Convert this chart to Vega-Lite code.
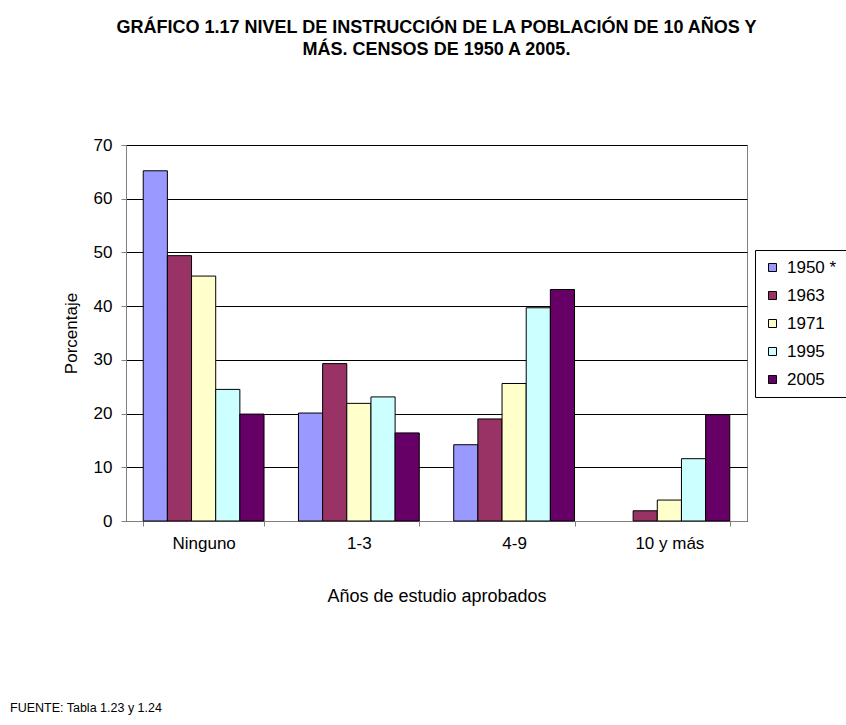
{
  "$schema": "https://vega.github.io/schema/vega-lite/v6.json",
  "autosize": {"type": "none"},
  "padding": {"left": 126, "top": 145, "right": 720, "bottom": 580},
  "background": "white",
  "config": {
    "font": "Liberation Sans",
    "view": {"stroke": "#808080", "strokeWidth": 1},
    "axis": {
      "labelFont": "Liberation Sans",
      "titleFont": "Liberation Sans",
      "labelFontSize": 17,
      "titleFontSize": 17,
      "labelColor": "black",
      "titleColor": "black",
      "titleFontWeight": "normal",
      "domainColor": "#808080",
      "tickColor": "#808080",
      "tickSize": 5
    },
    "legend": {
      "labelFont": "Liberation Sans",
      "labelFontSize": 17,
      "labelColor": "black"
    }
  },
  "title": {
    "text": ["GRÁFICO 1.17 NIVEL DE INSTRUCCIÓN DE LA POBLACIÓN DE 10 AÑOS Y", "MÁS. CENSOS DE 1950 A 2005."],
    "anchor": "middle",
    "frame": "group",
    "font": "Liberation Sans",
    "fontSize": 18,
    "fontWeight": "bold",
    "color": "black",
    "lineHeight": 22,
    "offset": 77
  },
  "data": {
    "values": [
      {"cat": "Ninguno", "censo": "1950 *", "pct": 65.2},
      {"cat": "Ninguno", "censo": "1963", "pct": 49.4},
      {"cat": "Ninguno", "censo": "1971", "pct": 45.6},
      {"cat": "Ninguno", "censo": "1995", "pct": 24.5},
      {"cat": "Ninguno", "censo": "2005", "pct": 19.9},
      {"cat": "1-3", "censo": "1950 *", "pct": 20.1},
      {"cat": "1-3", "censo": "1963", "pct": 29.3},
      {"cat": "1-3", "censo": "1971", "pct": 21.9},
      {"cat": "1-3", "censo": "1995", "pct": 23.1},
      {"cat": "1-3", "censo": "2005", "pct": 16.4},
      {"cat": "4-9", "censo": "1950 *", "pct": 14.2},
      {"cat": "4-9", "censo": "1963", "pct": 19.0},
      {"cat": "4-9", "censo": "1971", "pct": 25.6},
      {"cat": "4-9", "censo": "1995", "pct": 39.7},
      {"cat": "4-9", "censo": "2005", "pct": 43.1},
      {"cat": "10 y más", "censo": "1963", "pct": 1.9},
      {"cat": "10 y más", "censo": "1971", "pct": 3.9},
      {"cat": "10 y más", "censo": "1995", "pct": 11.6},
      {"cat": "10 y más", "censo": "2005", "pct": 19.8}
    ]
  },
  "vconcat": [
    {
      "width": 621,
      "height": 376,
      "title": {
        "text": "FUENTE: Tabla 1.23 y 1.24",
        "orient": "bottom",
        "anchor": "start",
        "frame": "group",
        "dx": -116,
        "offset": 97,
        "font": "Liberation Sans",
        "fontSize": 12.5,
        "fontWeight": "normal",
        "color": "black"
      },
      "mark": {"type": "bar", "stroke": "black", "strokeWidth": 1},
      "encoding": {
        "x": {
          "field": "cat",
          "type": "nominal",
          "sort": ["Ninguno", "1-3", "4-9", "10 y más"],
          "scale": {"paddingInner": 0.222, "paddingOuter": 0.111},
          "axis": {
            "title": "Años de estudio aprobados",
            "titleFontSize": 18,
            "labelAngle": 0,
            "tickBand": "extent",
            "labelPadding": 9,
            "titlePadding": 36
          }
        },
        "xOffset": {
          "field": "censo",
          "type": "nominal",
          "sort": ["1950 *", "1963", "1971", "1995", "2005"],
          "scale": {"paddingInner": 0, "paddingOuter": 0}
        },
        "y": {
          "field": "pct",
          "type": "quantitative",
          "scale": {"domain": [0, 70], "nice": false},
          "axis": {
            "title": "Porcentaje",
            "values": [0, 10, 20, 30, 40, 50, 60, 70],
            "grid": true,
            "gridColor": "black",
            "gridWidth": 1,
            "labelPadding": 9,
            "titlePadding": 13
          }
        },
        "color": {
          "field": "censo",
          "type": "nominal",
          "sort": ["1950 *", "1963", "1971", "1995", "2005"],
          "scale": {
            "domain": ["1950 *", "1963", "1971", "1995", "2005"],
            "range": ["#9999FF", "#993366", "#FFFFCC", "#CCFFFF", "#660066"]
          },
          "legend": {
            "title": null,
            "orient": "none",
            "legendX": 629,
            "legendY": 105,
            "strokeColor": "black",
            "fillColor": "white",
            "padding": 9,
            "rowPadding": 10,
            "symbolType": "square",
            "symbolSize": 64,
            "symbolStrokeColor": "black",
            "symbolStrokeWidth": 1,
            "symbolOpacity": 1,
            "labelOffset": 6
          }
        }
      }
    }
  ]
}
